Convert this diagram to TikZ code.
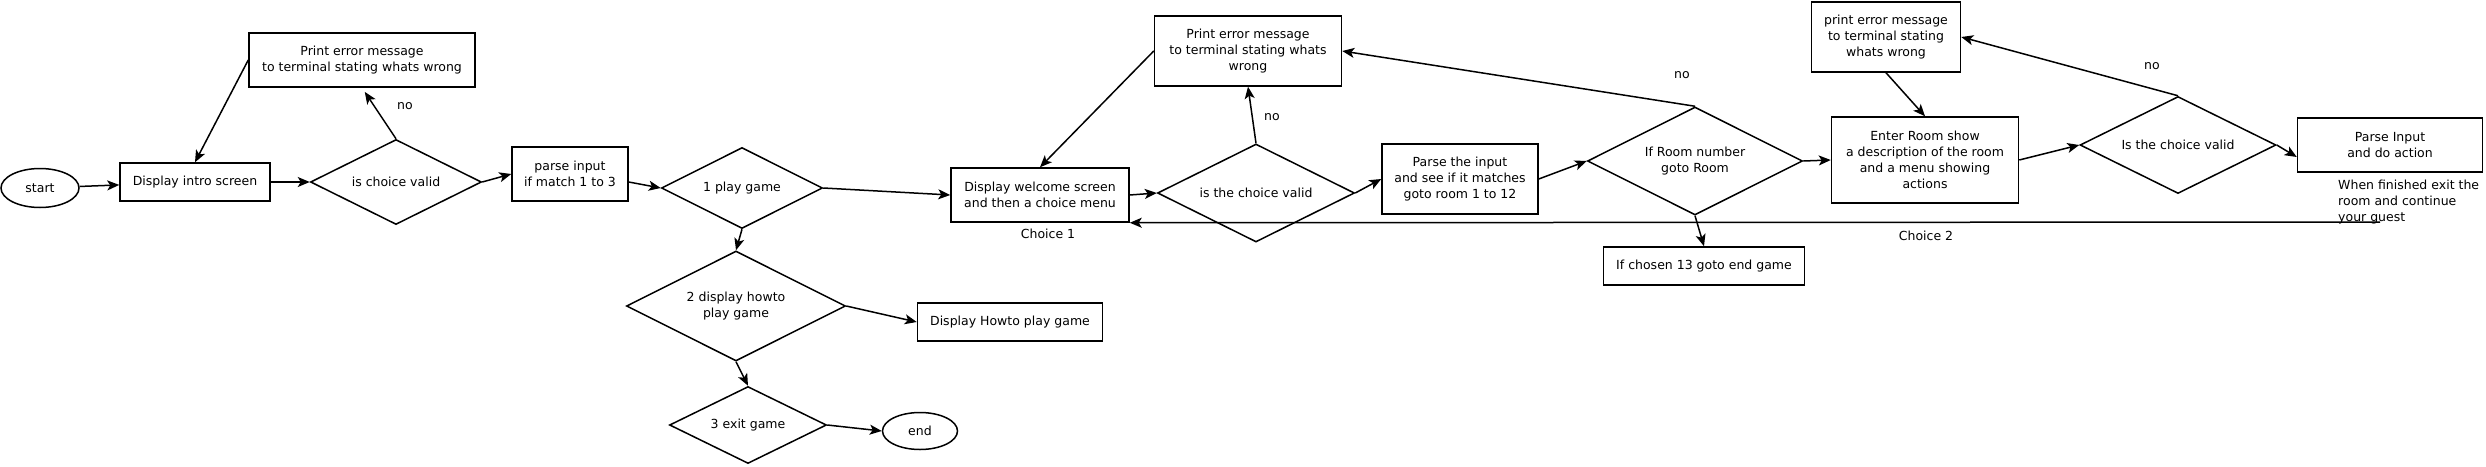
\documentclass[tikz,border=0pt]{standalone}
\usepackage{fontspec}
\setmainfont{DejaVu Sans}
\usetikzlibrary{shapes.geometric,arrows.meta}

\begin{document}
\begin{tikzpicture}[x=1pt, y=-1pt,
    font=\fontsize{12.5}{16}\selectfont,
    every node/.style={align=center},
    box/.style={draw, line width=1.5pt, inner sep=0pt},
    choice/.style={draw, diamond, aspect=2, line width=1.5pt, inner sep=0pt},
    term/.style={draw, ellipse, line width=1.5pt, inner sep=0pt},
    arr/.style={line width=1.5pt, -{Stealth[length=12pt,width=10pt,inset=3pt]}},
    lbl/.style={inner sep=0pt}]
    \useasboundingbox (0,0) rectangle (2486,466);

    % Intro screen
    \node[term, minimum width=78pt, minimum height=39pt] (start) at (40,188) {start};
    \node[box, minimum width=150pt, minimum height=38pt] (intro) at (195,182) {Display intro screen};
    \node[choice, minimum width=171pt, minimum height=85pt] (valid1) at (396,182) {is choice valid};
    \node[box, minimum width=226pt, minimum height=54pt] (err1) at (362,60) {Print error message\\to terminal stating whats wrong};
    \node[box, minimum width=116pt, minimum height=54pt] (parse1) at (570,174) {parse input\\if match 1 to 3};

    % Main menu
    \node[choice, minimum width=161pt, minimum height=81pt] (play) at (742,188) {1 play game};
    \node[choice, minimum width=219pt, minimum height=110pt] (howto) at (736,306) {2 display howto\\play game};
    \node[box, minimum width=185pt, minimum height=38pt] (howtobox) at (1010,322) {Display Howto play game};
    \node[choice, minimum width=157pt, minimum height=77pt] (exit) at (748,425) {3 exit game};
    \node[term, minimum width=75pt, minimum height=37pt] (end) at (920,431) {end};

    % Welcome screen
    \node[box, minimum width=178pt, minimum height=54pt] (welcome) at (1040,195) {Display welcome screen\\and then a choice menu};
    \node[choice, minimum width=197pt, minimum height=98pt] (valid2) at (1256,193) {is the choice valid};
    \node[box, minimum width=187pt, minimum height=70pt] (err2) at (1248,51) {Print error message\\to terminal stating whats\\wrong};
    \node[box, minimum width=156pt, minimum height=70pt] (parse2) at (1460,179) {Parse the input\\and see if it matches\\goto room 1 to 12};

    % Rooms
    \node[choice, minimum width=215pt, minimum height=108pt] (room) at (1695,161) {If Room number\\goto Room};
    \node[box, minimum width=201pt, minimum height=38pt] (chosen) at (1704,266) {If chosen 13 goto end game};
    \node[box, minimum width=187pt, minimum height=86pt] (enter) at (1925,160) {Enter Room show\\a description of the room\\and a menu showing\\actions};
    \node[box, minimum width=149pt, minimum height=70pt] (err3) at (1886,37) {print error message\\to terminal stating\\whats wrong};
    \node[choice, minimum width=196pt, minimum height=97pt] (valid3) at (2178,145) {Is the choice valid};
    \node[box, minimum width=185pt, minimum height=54pt] (action) at (2390,145) {Parse Input\\and do action};

    % Labels
    \node[lbl] (no1) at (405,106) {no};
    \node[lbl] (no2) at (1272,117) {no};
    \node[lbl] (no3) at (1682,75) {no};
    \node[lbl] (no4) at (2152,66) {no};
    \node[lbl] (choice1) at (1048,234) {Choice 1};
    \node[lbl] (choice2) at (1926,236) {Choice 2};
    \node[lbl, align=left, anchor=north west] (note) at (2338,180) {When finished exit the\\room and continue\\your guest};
    \coordinate (back) at (2380,222);

    % Connectors
    \draw[arr] (start) -- (intro);
    \draw[arr] (intro) -- (valid1);
    \draw[arr, shorten >=5pt] (valid1.north) -- (err1.south);
    \draw[arr] (err1.west) -- (intro.north);
    \draw[arr] (valid1.east) -- (parse1.west);
    \draw[arr] ([yshift=-8pt]parse1.east) -- (play.west);
    \draw[arr] (play.east) -- (welcome.west);
    \draw[arr] (play.south) -- (howto.north);
    \draw[arr] (howto.east) -- (howtobox.west);
    \draw[arr] (howto.south) -- (exit.north);
    \draw[arr] (exit.east) -- (end.west);
    \draw[arr] (err2.west) -- (welcome.north);
    \draw[arr] (welcome.east) -- (valid2.west);
    \draw[arr] (valid2.north) -- (err2.south);
    \draw[arr] (valid2.east) -- (parse2.west);
    \draw[arr] (parse2.east) -- (room.west);
    \draw[arr] (room.north) -- (err2.east);
    \draw[arr] (room.east) -- (enter.west);
    \draw[arr] (room.south) -- (chosen.north);
    \draw[arr] (err3.south) -- (enter.north);
    \draw[arr] (enter.east) -- (valid3.west);
    \draw[arr] (valid3.north) -- (err3.east);
    \draw[arr] (valid3.east) -- ([yshift=-12pt]action.west);
    \draw[arr] (back) -- (welcome.south east);

\end{tikzpicture}
\end{document}
